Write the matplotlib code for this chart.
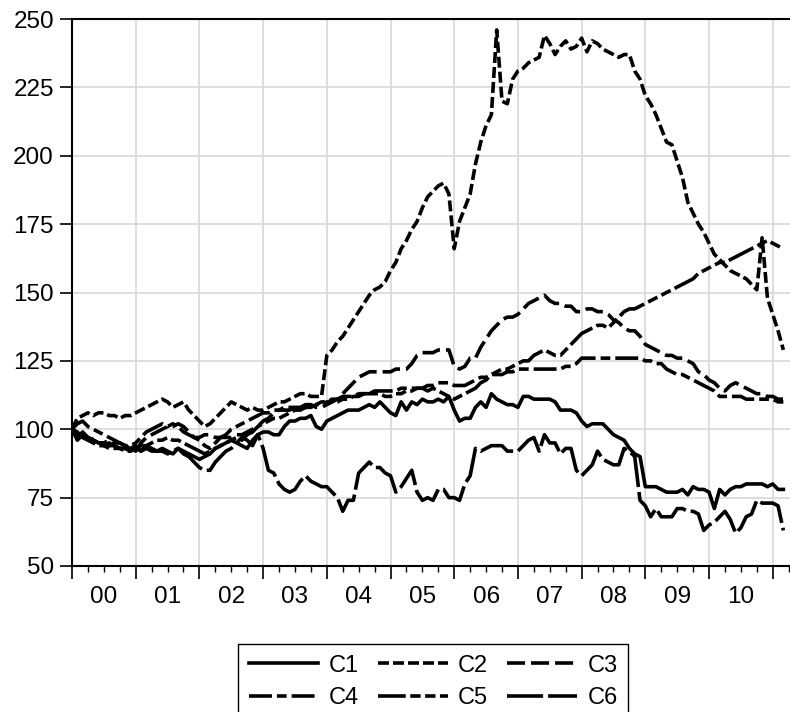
import numpy as np
import matplotlib
matplotlib.use("Agg")
import matplotlib.pyplot as plt
from matplotlib import transforms

plt.rcParams['font.family'] = ['Liberation Sans', 'DejaVu Sans']
plt.rcParams['lines.scale_dashes'] = False

# monthly index values, Jan 2000 .. Mar 2011
c1 = [100, 97, 99, 97, 96, 95, 95, 94, 94, 93, 93, 93,
      94, 92, 93, 92, 92, 93, 92, 91, 93, 92, 91, 90,
      89, 90, 91, 93, 94, 95, 96, 95, 97, 96, 94, 98,
      99, 99, 98, 98, 101, 103, 103, 104, 104, 105, 101, 100,
      103, 104, 105, 106, 107, 107, 107, 108, 109, 108, 110, 108,
      106, 105, 110, 107, 110, 109, 111, 110, 110, 111, 110, 112,
      107, 103, 104, 104, 108, 110, 108, 113, 111, 110, 109, 109,
      108, 112, 112, 111, 111, 111, 111, 110, 107, 107, 107, 106,
      103, 101, 102, 102, 102, 100, 98, 97, 96, 93, 91, 90,
      79, 79, 79, 78, 77, 77, 77, 78, 76, 79, 78, 78,
      77, 71, 78, 76, 78, 79, 79, 80, 80, 80, 80, 79,
      80, 78, 78]
c2 = [100, 104, 105, 106, 105, 106, 106, 105, 105, 104, 105, 105,
      106, 107, 108, 109, 110, 111, 110, 108, 109, 110, 107, 105,
      103, 101, 102, 104, 106, 108, 110, 109, 108, 107, 108, 107,
      107, 108, 109, 110, 110, 111, 112, 113, 113, 112, 112, 112,
      127, 129, 132, 134, 137, 140, 143, 146, 149, 151, 152, 154,
      158, 161, 166, 169, 173, 176, 181, 185, 187, 189, 190, 186,
      166, 176, 181, 186, 197, 205, 211, 215, 246, 220, 219, 228,
      231, 232, 234, 235, 236, 244, 241, 237, 240, 242, 239, 240,
      243, 238, 242, 241, 239, 238, 237, 236, 237, 237, 231, 228,
      222, 219, 215, 210, 205, 204, 198, 192, 183, 179, 175, 172,
      168, 164, 162, 160, 158, 157, 156, 155, 153, 151, 170, 148,
      142, 136, 129]
c3 = [100, 99, 97, 98, 96, 95, 95, 96, 95, 95, 94, 93,
      92, 95, 97, 98, 99, 100, 101, 101, 102, 101, 99, 97,
      97, 98, 98, 97, 97, 97, 97, 98, 98, 99, 100, 101,
      103, 104, 106, 107, 107, 107, 108, 108, 108, 109, 108, 108,
      109, 110, 111, 113, 115, 117, 119, 120, 121, 121, 121, 121,
      121, 122, 122, 122, 124, 127, 128, 128, 128, 129, 129, 129,
      123, 122, 123, 126, 126, 130, 133, 136, 138, 140, 141, 141,
      142, 144, 146, 147, 148, 149, 147, 146, 146, 145, 145, 143,
      143, 144, 144, 143, 143, 142, 140, 139, 137, 136, 136, 134,
      131, 130, 129, 128, 127, 127, 126, 126, 125, 124, 121, 120,
      118, 117, 115, 114, 116, 117, 116, 115, 114, 113, 113, 112,
      112, 111, 111]
c4 = [100, 102, 103, 101, 100, 99, 98, 97, 96, 95, 94, 94,
      95, 97, 99, 100, 101, 102, 101, 102, 101, 99, 98, 97,
      96, 94, 93, 95, 97, 98, 100, 101, 102, 103, 104, 105,
      106, 106, 107, 107, 108, 108, 108, 108, 109, 109, 109, 110,
      110, 111, 111, 112, 112, 112, 113, 113, 113, 114, 114, 114,
      114, 114, 115, 115, 115, 115, 115, 116, 116, 117, 117, 117,
      116, 116, 116, 117, 118, 119, 119, 120, 120, 120, 121, 121,
      122, 122, 122, 122, 122, 122, 122, 122, 122, 123, 123, 124,
      126, 126, 126, 126, 126, 126, 126, 126, 126, 126, 126, 126,
      125, 125, 124, 124, 122, 121, 120, 120, 119, 118, 117, 116,
      115, 114, 112, 112, 112, 112, 112, 111, 111, 111, 111, 111,
      111, 110, 110]
c5 = [100, 98, 97, 96, 95, 94, 94, 93, 93, 93, 92, 92,
      93, 94, 94, 95, 96, 96, 97, 96, 96, 95, 94, 93,
      92, 91, 92, 93, 94, 95, 96, 97, 96, 98, 99, 101,
      102, 103, 104, 104, 105, 106, 107, 107, 108, 108, 109, 109,
      110, 110, 110, 111, 111, 112, 112, 113, 113, 113, 113, 112,
      112, 113, 113, 114, 114, 115, 115, 114, 115, 114, 113, 112,
      111, 112, 113, 114, 115, 117, 118, 120, 121, 122, 122, 123,
      124, 125, 125, 127, 128, 129, 128, 127, 127, 129, 131, 133,
      135, 136, 137, 138, 138, 137, 139, 141, 143, 144, 144, 145,
      146, 147, 148, 149, 150, 151, 152, 153, 154, 155, 157, 158,
      159, 160, 161, 161, 162, 163, 164, 165, 166, 167, 168, 169,
      168, 167, 166]
c6 = [100, 96, 98, 97, 96, 95, 94, 95, 94, 93, 93, 92,
      93, 92, 94, 93, 92, 92, 91, 92, 93, 91, 90, 88,
      86, 85, 85, 88, 90, 92, 93, 95, 94, 93, 96, 98,
      93, 85, 84, 80, 78, 77, 78, 81, 83, 81, 80, 79,
      79, 77, 75, 70, 74, 74, 84, 86, 88, 86, 86, 84,
      83, 77, 79, 82, 85, 77, 74, 75, 74, 78, 78, 75,
      75, 74, 80, 83, 93, 92, 93, 94, 94, 94, 92, 92,
      92, 94, 96, 97, 92, 98, 95, 95, 91, 93, 93, 85,
      83, 85, 87, 92, 89, 88, 87, 87, 93, 92, 90, 74,
      72, 68, 71, 68, 68, 68, 71, 71, 70, 70, 69, 63,
      65, 66, 68, 70, 67, 62, 64, 68, 69, 74, 73, 73,
      73, 72, 63]

names = ['C1', 'C2', 'C3', 'C4', 'C5', 'C6']
year_labels = ['00', '01', '02', '03', '04', '05', '06', '07', '08', '09', '10']

series = [c1, c2, c3, c4, c5, c6]
styles = ['-',
          (0, (7.9, 2.9)),
          (0, (13, 4.3)),
          (0, (16.5, 3.6, 7, 3.6)),
          (0, (20, 3.2, 7.5, 3.2, 7.5, 3.2)),
          (0, (26, 3.6))]

fig = plt.figure(figsize=(7.9, 7.12), dpi=100)
ax = fig.add_axes([72 / 790, 1 - 566 / 712, 718 / 790, 547 / 712])

months = np.arange(len(c1))
lines = []
for s, name, ls in zip(series, names, styles):
    ln, = ax.plot(months, s, color='black', lw=2.6, linestyle=ls, label=name)
    lines.append(ln)

ax.set_xlim(0, 135.25)
ax.set_ylim(50, 250)
ax.set_yticks(np.arange(50, 251, 25))
ax.set_xticks(np.arange(0, 136, 12))
ax.set_xticks(np.arange(0, 136, 3), minor=True)
ax.set_xticklabels([])
ax.tick_params(axis='y', direction='out', length=9, width=1.2, pad=4, labelsize=17.5)
ax.tick_params(axis='x', which='major', direction='out', length=9, width=1.2)
ax.tick_params(axis='x', which='minor', direction='out', length=4.5, width=1)

ax.grid(True, which='major', color='#d8d8d8', lw=1.2)
ax.set_axisbelow(True)

for side in ['left', 'bottom', 'top']:
    ax.spines[side].set_linewidth(1.5)
ax.spines['right'].set_visible(False)

trans = transforms.blended_transform_factory(ax.transData, ax.transAxes)
for i, lab in enumerate(year_labels):
    ax.text(6 + 12 * i, -31 / 547, lab, transform=trans, ha='center', va='center', fontsize=17.5)

# legend is filled column by column, so order it to read C1 C2 C3 / C4 C5 C6
order = [0, 3, 1, 4, 2, 5]
fig.legend([lines[i] for i in order], [names[i] for i in order],
           loc='upper left', bbox_to_anchor=(238 / 790, 1 - 644 / 712), ncol=3,
           fontsize=17, frameon=True, fancybox=False, framealpha=1, edgecolor='black',
           borderaxespad=0, handlelength=2.95, handletextpad=0.45, columnspacing=0.8,
           labelspacing=0.45, borderpad=0.45)

fig.savefig('out.png', dpi=100)
